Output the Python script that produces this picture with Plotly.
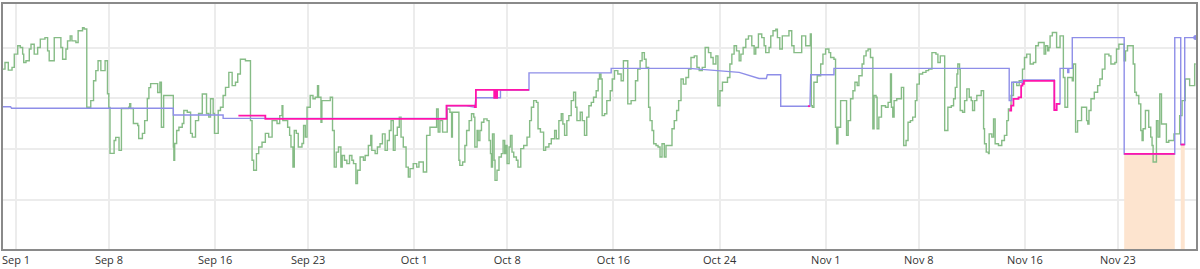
import pandas as pd
import plotly.graph_objects as go

BASE = pd.Timestamp("2024-09-01")

# (days since Sep 1, value) step points of the green series
green_steps = [
(-1.13,71.5),(-0.83,74.1),(-0.58,71.1),(-0.30,72.2),(-0.13,77.4),(0.13,80.7),(0.32,80.0),(0.50,77.4),(0.58,74.1),(0.75,74.8),
(1.00,79.4),(1.13,81.3),(1.37,77.4),(1.63,80.0),(1.83,83.3),(2.18,83.9),(2.38,78.7),(2.50,74.8),(2.88,83.9),(3.38,80.0),
(3.51,75.4),(3.76,79.4),(3.88,82.6),(4.08,84.6),(4.21,82.6),(4.51,82.0),(4.68,86.6),(5.01,87.8),(5.13,87.3),(5.33,56.5),
(5.63,59.1),(5.84,66.9),(6.01,70.9),(6.18,74.8),(6.39,70.9),(6.71,74.8),(6.89,61.8),(6.99,56.4),(7.08,38.3),(7.39,43.4),
(7.51,44.6),(7.76,39.5),(7.94,56.0),(8.49,56.5),(8.56,57.9),(8.64,56.0),(8.84,50.1),(9.17,49.3),(9.24,44.2),(9.52,46.2),
(9.69,51.2),(9.89,59.9),(10.01,64.2),(10.14,65.8),(10.67,62.3),(10.84,66.3),(10.95,48.6),(11.12,61.1),(11.85,40.8),(11.89,35.6),
(11.95,42.2),(12.10,47.3),(12.27,48.6),(12.52,50.1),(12.64,55.2),(12.90,54.5),(13.15,46.2),(13.28,44.7),(13.52,51.2),(13.75,54.0),
(14.03,61.7),(14.35,54.0),(14.52,52.6),(14.65,59.8),(14.85,54.0),(14.95,46.2),(15.23,55.2),(15.40,56.5),(15.60,61.1),(15.78,64.3),
(16.03,70.2),(16.28,65.0),(16.53,66.3),(16.70,69.6),(16.90,75.4),(17.28,74.8),(17.66,51.2),(17.78,35.6),(17.90,31.7),(18.11,38.2),
(18.28,40.8),(18.53,42.7),(18.78,46.2),(19.03,44.7),(19.29,51.2),(19.66,50.1),(19.86,53.2),(20.04,57.1),(20.10,51.2),(20.46,48.6),
(20.61,45.4),(20.71,40.8),(20.86,32.9),(20.96,47.3),(21.11,46.2),(21.26,40.8),(21.54,42.2),(21.66,49.3),(21.79,44.7),(21.92,56.5),
(22.16,61.1),(22.37,59.8),(22.54,60.4),(22.71,65.0),(22.79,60.4),(22.97,50.6),(23.04,59.1),(23.67,60.4),(23.84,47.3),(23.97,32.9),
(24.12,38.8),(24.29,40.8),(24.47,32.9),(24.57,37.5),(24.74,35.6),(24.92,34.3),(25.12,37.5),(25.30,35.6),(25.42,34.3),(25.60,26.4),
(25.72,31.7),(25.92,36.9),(26.17,35.6),(26.30,37.5),(26.54,41.4),(26.72,45.4),(26.80,39.5),(27.05,38.2),(27.22,40.8),(27.42,42.1),
(27.60,46.0),(27.80,39.5),(27.97,43.4),(28.12,47.3),(28.25,51.2),(28.42,39.5),(28.55,45.4),(28.72,48.6),(28.87,52.6),(29.00,44.7),
(29.17,40.8),(29.38,32.9),(29.55,29.0),(29.68,32.3),(29.92,34.3),(30.18,32.9),(30.35,34.9),(30.68,31.0),(30.93,45.4),(31.18,48.6),
(31.68,55.8),(31.80,46.7),(31.93,51.2),(32.13,46.7),(32.48,55.8),(32.68,54.5),(32.81,44.7),(32.87,54.5),(33.36,35.6),(33.43,33.6),
(33.64,34.9),(33.81,41.4),(33.94,47.3),(34.13,51.2),(34.31,53.9),(34.48,52.6),(34.56,40.8),(34.73,47.3),(34.81,43.4),(34.94,47.3),
(35.06,50.6),(35.24,51.9),(35.48,51.2),(35.63,43.4),(35.74,38.2),(35.81,32.9),(35.89,46.0),(36.01,35.6),(36.08,27.7),(36.23,31.7),
(36.38,36.9),(36.56,38.2),(36.69,43.4),(36.81,38.2),(36.89,41.4),(36.99,34.3),(37.14,40.8),(37.24,45.4),(37.36,38.8),(37.49,36.9),
(37.69,35.6),(37.81,32.9),(38.02,40.2),(38.24,41.4),(38.49,44.7),(38.69,51.2),(38.82,56.5),(38.99,59.1),(39.20,58.4),(39.32,48.0),
(39.50,46.7),(39.74,39.5),(39.89,40.8),(40.14,42.1),(40.32,44.1),(40.57,47.3),(40.70,44.1),(40.89,51.2),(41.07,53.9),(41.19,49.9),
(41.32,45.4),(41.49,51.2),(41.64,53.2),(41.82,59.1),(42.00,62.4),(42.15,56.5),(42.25,51.2),(42.50,54.5),(42.65,51.2),(42.82,45.4),
(42.99,52.6),(43.15,57.1),(43.33,58.4),(43.50,60.4),(43.70,63.0),(43.85,67.6),(43.95,69.6),(44.06,67.6),(44.15,53.2),(44.33,53.9),
(44.50,59.1),(44.76,63.0),(44.91,67.6),(45.08,70.9),(45.33,69.6),(45.58,66.9),(45.75,74.8),(46.08,57.8),(46.33,59.1),(46.66,66.9),
(46.83,71.5),(47.01,74.8),(47.16,78.0),(47.33,75.4),(47.46,72.2),(47.65,56.5),(47.76,51.2),(47.91,47.3),(48.03,42.1),(48.21,41.4),
(48.36,40.8),(48.51,36.9),(48.66,42.1),(48.83,36.9),(48.96,41.4),(49.41,48.0),(49.58,51.2),(49.76,55.2),(49.91,59.1),(50.09,67.6),
(50.26,65.6),(50.46,68.2),(50.66,71.5),(50.84,76.1),(51.09,76.7),(51.29,72.2),(51.46,70.9),(51.69,72.2),(51.91,80.0),(52.16,78.0),
(52.34,76.1),(52.51,73.5),(52.72,76.7),(52.87,57.1),(53.02,63.0),(53.21,66.3),(53.59,68.2),(53.77,73.5),(53.92,77.4),(54.09,80.7),
(54.27,78.7),(54.47,74.8),(54.60,77.4),(54.77,80.0),(54.97,83.3),(55.17,84.6),(55.42,80.7),(55.60,77.4),(55.72,80.0),(55.92,85.3),
(56.17,83.9),(56.35,80.7),(56.47,78.0),(56.72,80.0),(56.85,84.6),(57.02,86.6),(57.23,87.2),(57.35,83.9),(57.53,79.4),(57.72,84.6),
(58.22,86.6),(58.43,80.7),(58.60,78.0),(59.18,84.6),(59.48,80.7),(59.83,85.3),(59.90,57.1),(59.98,56.5),(60.10,66.3),(60.35,68.9),
(60.61,73.5),(60.78,77.4),(60.98,79.4),(61.23,78.0),(61.36,76.1),(61.61,75.4),(61.73,48.6),(61.81,42.1),(61.91,48.6),(62.11,59.1),
(62.56,45.4),(62.68,51.2),(62.86,59.8),(63.04,63.0),(63.19,66.3),(63.36,65.0),(63.49,68.9),(63.73,73.5),(63.86,76.7),(64.03,78.7),
(64.18,79.4),(64.36,76.1),(64.54,48.0),(64.63,61.1),(64.78,60.4),(64.86,48.0),(64.99,52.6),(65.19,57.1),(65.49,56.5),(65.69,58.4),
(65.87,69.6),(65.94,56.5),(66.04,52.6),(66.14,59.1),(66.34,59.8),(66.69,64.3),(66.86,41.4),(67.04,43.4),(67.19,50.6),(67.37,51.2),
(67.54,52.6),(67.74,59.1),(67.86,65.6),(68.04,69.6),(68.29,70.2),(68.54,70.9),(68.74,71.5),(68.99,78.0),(69.29,77.4),(69.44,74.1),
(69.62,76.7),(69.95,47.3),(70.19,56.5),(70.45,57.1),(70.62,59.8),(70.75,64.3),(70.87,69.6),(70.94,73.5),(71.07,71.5),(71.12,55.2),
(71.30,54.5),(71.45,59.1),(71.62,63.7),(71.80,60.4),(71.95,59.1),(72.05,55.2),(72.20,59.1),(72.37,61.1),(72.70,63.0),(72.88,48.0),
(72.95,42.1),(73.08,38.8),(73.25,38.2),(73.30,46.0),(73.50,44.7),(73.63,51.9),(73.75,42.1),(74.00,41.4),(74.25,43.4),(74.45,45.4),
(74.63,51.2),(74.75,55.8),(74.95,61.1),(75.13,66.3),(75.38,65.0),(75.56,66.9),(75.81,71.5),(75.96,76.1),(76.13,77.4),(76.39,73.5),
(76.63,74.1),(76.81,80.7),(77.01,82.0),(77.44,77.4),(77.56,80.7),(77.71,78.7),(77.80,80.0),(77.89,84.6),(78.06,85.9),(78.38,80.0),
(78.64,84.6),(78.89,68.2),(79.01,56.5),(79.21,68.2),(79.56,66.9),(79.64,73.5),(79.81,46.7),(79.96,51.2),(80.26,56.5),(80.64,51.2),
(80.73,49.9),(80.82,55.2),(80.97,59.8),(81.22,62.4),(81.47,65.0),(81.64,67.6),(81.82,71.5),(82.02,77.4),(82.32,76.7),(82.47,73.5),
(82.77,74.1),(82.89,79.4),(83.07,81.3),(83.47,74.8),(83.57,78.7),(83.72,80.7),(84.15,73.5),(84.27,62.4),(84.39,61.1),(84.57,57.8),
(84.72,47.3),(84.82,43.4),(84.90,48.0),(85.07,55.2),(85.32,48.6),(85.47,44.7),(85.57,41.4),(85.65,34.9),(85.90,51.2),(86.02,44.7),
(86.15,61.7),(86.28,49.9),(86.65,42.7),(86.83,43.4),(87.22,46.0),(87.65,53.2),(87.83,59.1),(88.07,67.6),(88.40,65.0),(88.78,73.5),
(88.86,73.5),
]

# blue series (linear, repeated day = vertical jump)
blue_points = [
(-1.13,56.7),(-0.41,56.7),(-0.34,56.1),(11.85,56.1),(11.85,53.4),(15.60,53.4),(15.60,52.1),(32.43,52.1),(32.43,57.1),
(33.81,57.1),(34.56,56.5),(34.64,60.2),(36.49,60.2),(36.49,63.3),(38.64,63.3),(38.64,70.0),(44.83,70.0),(44.83,71.8),
(50.71,71.8),(54.47,70.2),(55.97,67.8),(56.52,67.8),(56.59,69.3),(57.60,69.3),(57.60,56.9),(59.80,56.9),(59.86,69.3),
(61.61,69.3),(61.61,71.8),(74.81,71.8),(74.81,59.1),(75.00,59.1),(75.00,66.3),(75.81,66.3),(75.81,67.2),(78.21,67.2),
(78.21,55.4),(78.38,55.4),(78.38,57.8),(78.64,57.8),(78.64,71.8),(79.22,71.8),(79.22,70.1),(79.30,70.1),(79.30,71.8),
(79.56,71.8),(79.56,83.9),(83.47,83.9),(83.47,38.1),(87.28,38.1),(87.28,83.9),(87.73,83.9),(87.73,41.8),(88.03,41.8),
(88.03,83.9),(88.86,83.9),
]

# magenta series: step segments (None = gap)
magenta_steps = [
(16.75,53.2),(18.78,51.9),(32.43,57.1),(33.81,57.1),(34.56,56.5),(34.64,63.3),(36.02,60.2),(36.10,63.3),(36.18,60.2),
(36.24,63.3),(38.64,63.3),None,
(59.65,56.9),(59.80,56.9),None,
(74.81,55.2),(74.96,57.1),(75.13,59.8),(75.51,60.4),(75.71,65.0),(75.81,65.7),(75.92,66.9),(78.21,55.4),(78.38,57.8),
(78.64,57.8),None,
(83.47,38.1),(87.28,38.1),None,
(87.73,41.8),(88.03,41.8),
]

# shaded (orange) intervals: (start day, end day, level)
shade_spans = [(83.47, 87.28, 38.1), (87.73, 88.03, 41.8)]

tick_days = [0, 7, 15, 22, 30, 37, 45, 53, 61, 68, 76, 83]
tick_labels = ["Sep 1", "Sep 8", "Sep 16", "Sep 23", "Oct 1", "Oct 8", "Oct 16",
               "Oct 24", "Nov 1", "Nov 8", "Nov 16", "Nov 23"]

x_range_days = [-0.98, 88.88]
y_range = [0.66, 97.14]


def to_time(d):
    return BASE + pd.to_timedelta(d, unit="D")


fig = go.Figure()

for s, e, lvl in shade_spans:
    fig.add_trace(go.Scatter(
        x=[to_time(s), to_time(e)], y=[lvl, lvl], mode="lines",
        line=dict(width=0, color="rgba(0,0,0,0)"), fill="tozeroy",
        fillcolor="#fde4cf", hoverinfo="skip", showlegend=False))

fig.add_trace(go.Scatter(
    x=[to_time(d) for d, _ in green_steps], y=[v for _, v in green_steps],
    mode="lines", line=dict(color="#86bc86", width=1.4, shape="hv"), showlegend=False))

fig.add_trace(go.Scatter(
    x=[to_time(d) for d, _ in blue_points], y=[v for _, v in blue_points],
    mode="lines", line=dict(color="#8e8ee8", width=1.4), showlegend=False))

fig.add_trace(go.Scatter(
    x=[to_time(blue_points[-1][0])], y=[blue_points[-1][1]], mode="markers",
    marker=dict(color="#8e8ee8", size=5), showlegend=False))

mx = [None if p is None else to_time(p[0]) for p in magenta_steps]
my = [None if p is None else p[1] for p in magenta_steps]
fig.add_trace(go.Scatter(
    x=mx, y=my, mode="lines", connectgaps=False,
    line=dict(color="#ff14ab", width=1.8, shape="hv"), showlegend=False))

fig.update_layout(
    width=1200, height=269,
    margin=dict(l=2, r=2, t=3, b=20),
    paper_bgcolor="white", plot_bgcolor="white",
    font=dict(family="Open Sans, Noto Sans, sans-serif", size=11, color="#333"),
    showlegend=False,
)
fig.update_xaxes(
    range=[to_time(x_range_days[0]), to_time(x_range_days[1])],
    tickmode="array", tickvals=[to_time(d) for d in tick_days], ticktext=tick_labels,
    showgrid=True, gridcolor="#ececec", gridwidth=1.5,
    showline=True, mirror=True, linecolor="#8a8a8a", linewidth=1.5,
    ticks="", tickfont=dict(size=11, color="#333"), zeroline=False,
)
fig.update_yaxes(
    range=y_range, tickmode="linear", tick0=0, dtick=20,
    showticklabels=False, showgrid=True, gridcolor="#ececec", gridwidth=1.5,
    showline=True, mirror=True, linecolor="#8a8a8a", linewidth=1.5,
    ticks="", zeroline=False,
)

fig.write_html("out.html")
